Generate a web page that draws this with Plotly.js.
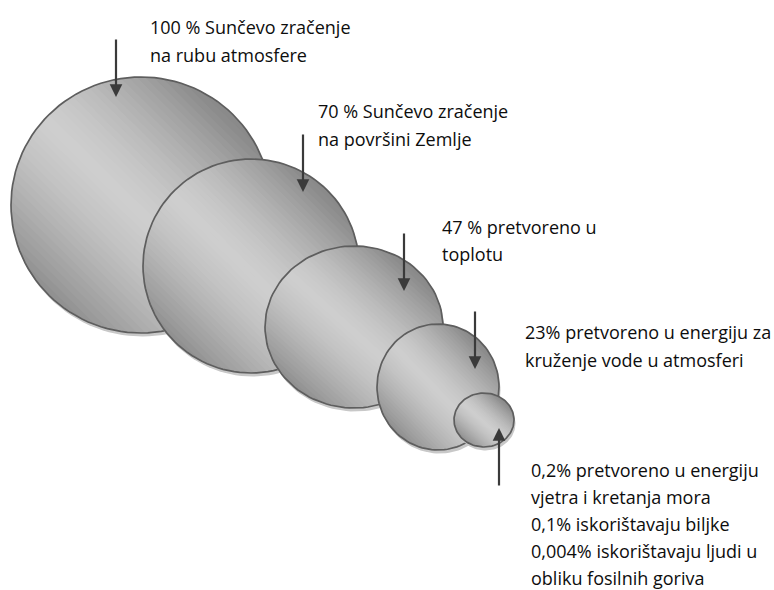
<!DOCTYPE html>
<html>
<head>
<meta charset="utf-8">
<script src="https://cdn.plot.ly/plotly-3.0.1.min.js"></script>
<style>html,body{margin:0;padding:0;background:#fff;}#chart{width:774px;height:590px;}</style>
</head>
<body>
<div id="chart"></div>
<script>
// ---- data ----
const shares = [100, 70, 47, 23, 0.2];
const labelLines = [
  ["100 % Sunčevo zračenje", "na rubu atmosfere"],
  ["70 % Sunčevo zračenje", "na površini Zemlje"],
  ["47 % pretvoreno u", "toplotu"],
  ["23% pretvoreno u energiju za", "kruženje vode u atmosferi"],
  ["0,2% pretvoreno u energiju", "vjetra i kretanja mora", "0,1% iskorištavaju biljke",
   "0,004% iskorištavaju ljudi u", "obliku fosilnih goriva"]
];
// ---- layout geometry (pixel space) ----
const centerX = [141, 251, 354, 438, 484];
const centerY = [205, 266, 327, 387, 420];
const radiusX = [130, 108, 89, 61, 30];
const radiusY = [128, 107, 81, 63, 27];
const arrowX = [116, 303, 404, 475, 499];
const arrowFrom = [38, 133, 232, 310, 487];
const arrowTo = [97, 192, 291, 369, 428];
const labelX = [150, 318, 442, 525, 531];
const labelBaseline = [33, 117, 233, 338, 476];
const lineSteps = [28, 28, 27, 28, 27];

const FS = 18;
const LIGHT = 206, DARK = 138;
const S2 = Math.SQRT1_2;

function gray(v) { v = Math.round(v); return 'rgb(' + v + ',' + v + ',' + v + ')'; }
function shade(a) { // a in [-1,1]: -1 lower-left edge, +1 upper-right edge
  const t = Math.min(1, Math.abs(a + 0.05) / 1.0);
  return gray(LIGHT - (LIGHT - DARK) * Math.pow(t, 1.45));
}
function ellipsePts(cx, cy, rx, ry, n) {
  const xs = [], ys = [];
  for (let k = 0; k <= n; k++) {
    const th = 2 * Math.PI * k / n;
    xs.push(cx + rx * Math.cos(th)); ys.push(cy + ry * Math.sin(th));
  }
  return {xs, ys};
}
// unit-circle point from (a along u, b along v); u=(S2,-S2) screen, v=(S2,S2)
function toScreen(i, a, b) {
  const X = a * S2 + b * S2, Y = -a * S2 + b * S2;
  return [centerX[i] + radiusX[i] * X, centerY[i] + radiusY[i] * Y];
}

const traces = [];
const NSTRIP = 44;
for (let i = 0; i < shares.length; i++) {
  const sh = ellipsePts(centerX[i] + 1.5, centerY[i] + 3.5, radiusX[i], radiusY[i], 120);
  traces.push({x: sh.xs, y: sh.ys, mode: 'lines', fill: 'toself', fillcolor: '#c8c8c8',
    line: {width: 0, color: 'rgba(0,0,0,0)'}, hoverinfo: 'skip', showlegend: false});
  const base = ellipsePts(centerX[i], centerY[i], radiusX[i], radiusY[i], 120);
  traces.push({x: base.xs, y: base.ys, mode: 'lines', fill: 'toself', fillcolor: gray((LIGHT + DARK) / 2),
    line: {width: 0, color: 'rgba(0,0,0,0)'}, hoverinfo: 'skip', showlegend: false});
  for (let s = 0; s < NSTRIP; s++) {
    const a0 = -1 + 2 * s / NSTRIP;
    const a1 = Math.min(1, -1 + 2 * (s + 1.6) / NSTRIP);
    const xs = [], ys = [];
    const m = 6;
    for (let k = 0; k <= m; k++) {
      const a = a0 + (a1 - a0) * k / m;
      const b = Math.sqrt(Math.max(0, 1 - a * a));
      const p = toScreen(i, a, b); xs.push(p[0]); ys.push(p[1]);
    }
    for (let k = m; k >= 0; k--) {
      const a = a0 + (a1 - a0) * k / m;
      const b = -Math.sqrt(Math.max(0, 1 - a * a));
      const p = toScreen(i, a, b); xs.push(p[0]); ys.push(p[1]);
    }
    xs.push(xs[0]); ys.push(ys[0]);
    traces.push({x: xs, y: ys, mode: 'lines', fill: 'toself',
      fillcolor: shade(-1 + 2 * (s + 0.5) / NSTRIP),
      line: {width: 0, color: 'rgba(0,0,0,0)'}, hoverinfo: 'skip', showlegend: false});
  }
  traces.push({x: base.xs, y: base.ys, mode: 'lines', line: {width: 1.7, color: '#5e5e5e'},
    hoverinfo: 'skip', showlegend: false});
}

const annotations = [];
for (let i = 0; i < arrowX.length; i++) {
  annotations.push({x: arrowX[i], y: arrowTo[i], ax: arrowX[i], ay: arrowFrom[i],
    xref: 'x', yref: 'y', axref: 'x', ayref: 'y', text: '', showarrow: true,
    arrowhead: 2, arrowsize: 1.15, arrowwidth: 2.2, arrowcolor: '#3a3a3a'});
}
for (let i = 0; i < labelLines.length; i++) {
  labelLines[i].forEach(function (line, j) {
    annotations.push({x: labelX[i] - 2, y: labelBaseline[i] + j * lineSteps[i] - 0.34 * FS,
      xref: 'x', yref: 'y', xanchor: 'left', yanchor: 'middle', showarrow: false,
      text: line, font: {family: 'Open Sans, sans-serif', size: FS, color: '#0d0d0d'}});
  });
}

const layout = {
  width: 774, height: 590, margin: {l: 0, r: 0, t: 0, b: 0},
  paper_bgcolor: '#ffffff', plot_bgcolor: '#ffffff', showlegend: false,
  xaxis: {range: [0, 774], visible: false, fixedrange: true},
  yaxis: {range: [590, 0], visible: false, fixedrange: true},
  annotations: annotations
};
Plotly.newPlot('chart', traces, layout, {displayModeBar: false, staticPlot: true});
</script>
</body>
</html>
